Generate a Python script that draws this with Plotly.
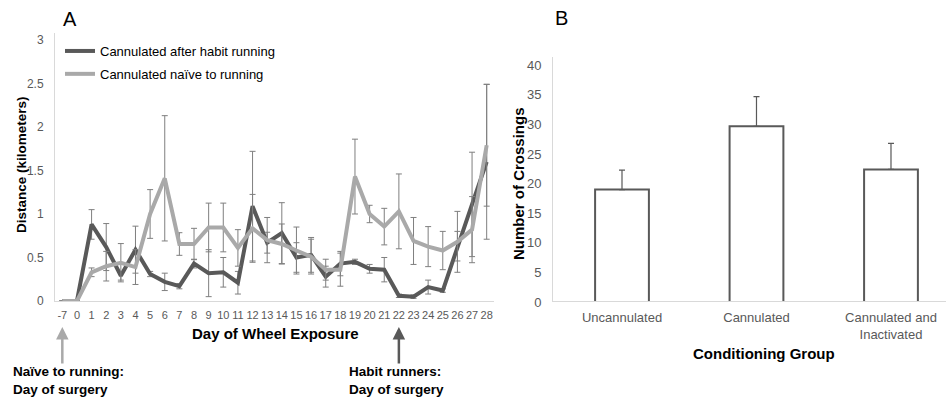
import plotly.graph_objects as go

# ---------------- Data ----------------
days = ["-7", "0"] + [str(d) for d in range(1, 29)]

habit_mean = [0, 0, 0.88, 0.62, 0.29, 0.59, 0.31, 0.22, 0.17, 0.43, 0.32, 0.33, 0.21, 1.09,
              0.67, 0.78, 0.50, 0.53, 0.28, 0.43, 0.45, 0.37, 0.36, 0.06, 0.05, 0.16, 0.12,
              0.63, 1.11, 1.60]
habit_err = [0, 0, 0.17, 0.27, 0.05, 0.27, 0.03, 0.10, 0.03, 0.05, 0.27, 0.17, 0.13, 0.63,
             0.12, 0.35, 0.17, 0.20, 0.12, 0.14, 0.03, 0.05, 0.14, 0.02, 0.02, 0.08, 0.02,
             0.17, 0.60, 0.89]

naive_mean = [0, 0, 0.33, 0.40, 0.44, 0.39, 1.00, 1.41, 0.655, 0.655, 0.845, 0.845, 0.61,
              0.835, 0.70, 0.655, 0.58, 0.51, 0.36, 0.36, 1.43, 1.00, 0.855, 1.03, 0.69,
              0.625, 0.58, 0.68, 0.82, 1.79]
naive_err = [0, 0, 0.05, 0.17, 0.22, 0.20, 0.28, 0.72, 0.13, 0.18, 0.28, 0.28, 0.21, 0.39,
             0.26, 0.23, 0.27, 0.20, 0.12, 0.19, 0.43, 0.10, 0.21, 0.43, 0.27, 0.23, 0.22,
             0.35, 0.38, 0.70]

surgery_days = ["-7", "22"]

groups = ["Uncannulated", "Cannulated", "Cannulated and<br>Inactivated"]
crossings = [19.0, 29.7, 22.4]
crossings_err = [3.3, 5.0, 4.4]

W, H = 946, 398
DARK = "#595959"
LIGHT = "#a9a9a9"
AXIS = "#d9d9d9"
TICK = "#595959"
FONT = "Liberation Sans, Arial, sans-serif"


def px(x):
    return x / W


def py(y):
    return 1 - y / H


fig = go.Figure()

fig.add_trace(go.Scatter(
    x=days, y=habit_mean, mode="lines", name="Cannulated after habit running",
    legendgroup="a",
    line=dict(color=DARK, width=4),
    error_y=dict(type="data", array=habit_err, visible=True, color="#7f7f7f",
                 thickness=1, width=3),
    xaxis="x", yaxis="y",
))
fig.add_trace(go.Scatter(
    x=days, y=naive_mean, mode="lines", name="Cannulated naïve to running",
    legendgroup="b",
    line=dict(color=LIGHT, width=4),
    error_y=dict(type="data", array=naive_err, visible=True, color="#7f7f7f",
                 thickness=1, width=3),
    xaxis="x", yaxis="y",
))

fig.add_trace(go.Bar(
    x=groups, y=crossings, width=0.4, showlegend=False,
    marker=dict(color="white", line=dict(color=DARK, width=2)),
    error_y=dict(type="data", array=crossings_err, arrayminus=[0, 0, 0],
                 symmetric=False, visible=True, color=DARK, thickness=1.2, width=3),
    xaxis="x2", yaxis="y2",
))

fig.update_layout(
    width=W, height=H,
    margin=dict(l=0, r=0, t=0, b=0),
    paper_bgcolor="white", plot_bgcolor="white",
    font=dict(family=FONT, color="#000000"),
    showlegend=True,
    legend=dict(x=px(60), y=py(36), xanchor="left", yanchor="top",
                bgcolor="rgba(0,0,0,0)", font=dict(size=13, color="#000000"),
                itemwidth=30, tracegroupgap=3, traceorder="grouped"),
    xaxis=dict(domain=[px(55), px(494)], type="category", range=[-0.5, 29.5],
               showline=True, linecolor=AXIS, linewidth=1, showgrid=False,
               zeroline=False, ticks="", tickfont=dict(size=11, color=TICK),
               ticklabelstandoff=4, tickangle=0, automargin=False),
    yaxis=dict(domain=[py(301), py(33)], range=[0, 3.08], tickvals=[0, 0.5, 1, 1.5, 2, 2.5, 3],
               ticktext=["0", "0.5", "1", "1.5", "2", "2.5", "3"],
               showline=True, linecolor=AXIS, linewidth=1, showgrid=False,
               zeroline=False, ticks="", tickfont=dict(size=12, color=TICK),
               ticklabelstandoff=8, automargin=False),
    xaxis2=dict(domain=[px(553), 1.0], type="category", range=[-0.513, 2.409],
                showline=True, linecolor=AXIS, linewidth=1, showgrid=False,
                zeroline=False, ticks="", tickfont=dict(size=13, color=TICK),
                ticklabelstandoff=4, tickangle=0, automargin=False),
    yaxis2=dict(domain=[py(302), py(57)], range=[0, 41.4], tickvals=list(range(0, 45, 5)),
                showline=True, linecolor=AXIS, linewidth=1, showgrid=False,
                zeroline=False, ticks="", tickfont=dict(size=13, color=TICK),
                ticklabelstandoff=8, automargin=False, anchor="x2"),
)

ann = []
# panel letters
ann.append(dict(text="A", x=px(70), y=py(19), xref="paper", yref="paper",
                showarrow=False, font=dict(size=20, color="#000"), xanchor="center", yanchor="middle"))
ann.append(dict(text="B", x=px(561), y=py(18), xref="paper", yref="paper",
                showarrow=False, font=dict(size=20, color="#000"), xanchor="center", yanchor="middle"))
# axis titles
ann.append(dict(text="<b>Distance (kilometers)</b>", x=px(22), y=py(165), xref="paper", yref="paper",
                showarrow=False, textangle=-90, font=dict(size=13.5, color="#000"),
                xanchor="center", yanchor="middle"))
ann.append(dict(text="<b>Day of Wheel Exposure</b>", x=px(275), y=py(333), xref="paper", yref="paper",
                showarrow=False, font=dict(size=15, color="#000"), xanchor="center", yanchor="middle"))
ann.append(dict(text="<b>Number of Crossings</b>", x=px(518), y=py(184), xref="paper", yref="paper",
                showarrow=False, textangle=-90, font=dict(size=15, color="#000"),
                xanchor="center", yanchor="middle"))
ann.append(dict(text="<b>Conditioning Group</b>", x=px(764), y=py(353), xref="paper", yref="paper",
                showarrow=False, font=dict(size=15, color="#000"), xanchor="center", yanchor="middle"))
# arrows (positioned by category index on the day axis)
for d, col in zip(surgery_days, [LIGHT, DARK]):
    ann.append(dict(text="", x=days.index(d), y=py(327), xref="x", yref="paper", ax=0, ay=38,
                    showarrow=True, arrowhead=2, arrowsize=1, arrowwidth=2.5, arrowcolor=col))
ann.append(dict(text="<b>Naïve to running:<br>Day of surgery</b>", x=px(11), y=py(380),
                xref="paper", yref="paper", showarrow=False, align="left",
                font=dict(size=13.5, color="#000"), xanchor="left", yanchor="middle"))
ann.append(dict(text="<b>Habit runners:<br>Day of surgery</b>", x=px(347), y=py(380),
                xref="paper", yref="paper", showarrow=False, align="left",
                font=dict(size=13.5, color="#000"), xanchor="left", yanchor="middle"))
fig.update_layout(annotations=ann)

fig.write_html("out.html")
